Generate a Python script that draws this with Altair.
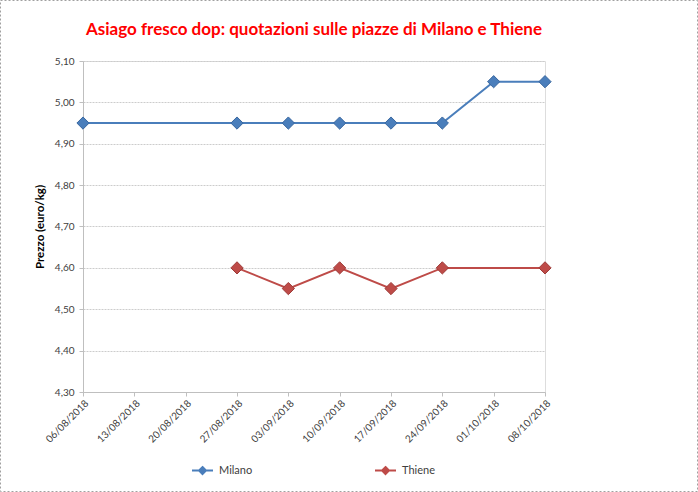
import altair as alt
import pandas as pd

dates = ["06/08/2018", "13/08/2018", "20/08/2018", "27/08/2018", "03/09/2018",
         "10/09/2018", "17/09/2018", "24/09/2018", "01/10/2018", "08/10/2018"]
milano = [4.95, None, None, 4.95, 4.95, 4.95, 4.95, 4.95, 5.05, 5.05]
thiene = [None, None, None, 4.60, 4.55, 4.60, 4.55, 4.60, None, 4.60]
series = ["Milano", "Thiene"]
colors = ["#4A7EBB", "#BE4B48"]
strokes = ["#3A68A0", "#9E3B38"]
y_ticks = [4.30, 4.40, 4.50, 4.60, 4.70, 4.80, 4.90, 5.00, 5.10]

rows = []
for d, m, t in zip(dates, milano, thiene):
    if m is not None:
        rows.append({"data": d, "serie": "Milano", "prezzo": m})
    if t is not None:
        rows.append({"data": d, "serie": "Thiene", "prezzo": t})
df = pd.DataFrame(rows)

x = alt.X("data:O", scale=alt.Scale(domain=dates, type="point", padding=0),
          axis=alt.Axis(title=None, labelAngle=-45, labelFontSize=10, labelColor="#404040",
                        tickColor="#BFBFBF", domainColor="#BFBFBF", tickSize=4,
                        labelPadding=2, grid=False, labelFont="Lato"))
y = alt.Y("prezzo:Q", scale=alt.Scale(domain=[4.30, 5.10], nice=False, zero=False),
          axis=alt.Axis(title="Prezzo (euro/kg)", values=y_ticks, format=".2f",
                        labelExpr="replace(datum.label, '.', ',')",
                        labelFontSize=10, labelColor="#404040", labelFont="Lato",
                        titleFontSize=11.5, titleFont="Lato", titleFontWeight="bold",
                        titleColor="#000000", titlePadding=9,
                        tickColor="#BFBFBF", domainColor="#BFBFBF", tickSize=4,
                        labelPadding=5, gridColor="#CCCCCC", gridDash=[2, 1]))
color = alt.Color("serie:N", scale=alt.Scale(domain=series, range=colors),
                  legend=alt.Legend(title=None, orient="none", legendX=108, legendY=398,
                                    direction="horizontal", columns=2, columnPadding=118,
                                    symbolType="M-1,0L1,0M0,-0.33L0.33,0L0,0.33L-0.33,0Z",
                                    symbolSize=441, symbolStrokeWidth=2,
                                    labelFontSize=11, labelFont="Lato", labelColor="#404040",
                                    labelOffset=5))

lines = alt.Chart(df).mark_line(strokeWidth=2).encode(x=x, y=y, color=color, detail="serie:N")
points = alt.Chart(df).mark_point(shape="diamond", filled=True, size=150, opacity=1,
                                  strokeWidth=1).encode(
    x=x, y=y, color=color,
    stroke=alt.Stroke("serie:N", scale=alt.Scale(domain=series, range=strokes), legend=None))

frame = alt.Chart(pd.DataFrame({"k": [0]})).mark_rect(
    fill=None, stroke="#A0A0A0", strokeDash=[2, 2], strokeWidth=1, clip=False).encode(
    x=alt.value(-82.5), x2=alt.value(614.5), y=alt.value(-60.5), y2=alt.value(430.5))

chart = alt.layer(frame, lines, points).properties(
    width=462, height=331,
    title=alt.Title("Asiago fresco dop: quotazioni sulle piazze di Milano e Thiene",
                    color="#FF0000", fontSize=17, font="Lato", fontWeight="bold",
                    anchor="middle", frame="group", offset=0, dy=39),
    autosize=alt.AutoSizeParams(type="none"),
    padding={"left": 83, "top": 61, "right": 153, "bottom": 100},
).configure_view(stroke=None).configure(background="white")

chart.save("out.html", embed_options={"renderer": "svg", "actions": False})
